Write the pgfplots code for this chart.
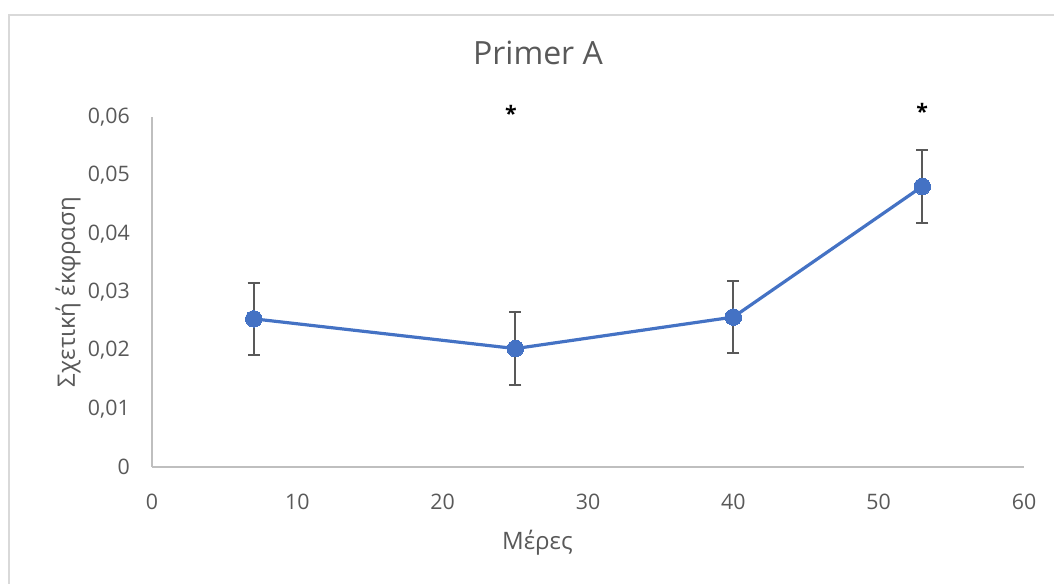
\documentclass[border=0pt]{standalone}
\usepackage{fontspec}
\setmainfont{Open Sans}
\usepackage{pgfplots}
\usepackage{pgfplotstable}
\pgfplotsset{compat=1.18}
\definecolor{lineblue}{HTML}{4472C4}
\definecolor{errgray}{HTML}{595959}
\definecolor{txtgray}{HTML}{595959}
\definecolor{axgray}{HTML}{BFBFBF}
\definecolor{framegray}{HTML}{D9D9D9}

\pgfplotstableread{
x y e
7 0.0254 0.0062
25 0.0203 0.0062
40 0.0257 0.0062
53 0.0481 0.0062
}\primerA

\begin{document}
\begin{tikzpicture}
\useasboundingbox (-114pt,-87pt) rectangle (676.5pt,350.25pt);
\draw[framegray, line width=1pt] (-107.25pt,-100pt) -- (-107.25pt,339pt) -- (700pt,339pt);
\begin{axis}[
  at={(0,0)}, anchor=south west,
  scale only axis, width=654pt, height=262.5pt,
  xmin=0, xmax=60, ymin=0, ymax=0.06,
  clip=false,
  scaled y ticks=false, scaled x ticks=false,
  axis x line*=bottom, axis y line*=left,
  axis line style={draw=axgray, line width=1pt},
  major tick length=0pt,
  xtick={0,10,20,30,40,50,60},
  xticklabels={0,10,20,30,40,50,60},
  ytick={0,0.01,0.02,0.03,0.04,0.05,0.06},
  yticklabels={0,{0,01},{0,02},{0,03},{0,04},{0,05},{0,06}},
  xticklabel style={anchor=center, inner sep=0pt, yshift=-26pt, text=txtgray, font=\fontsize{16}{19}\selectfont},
  yticklabel style={anchor=east, inner sep=0pt, xshift=-16.5pt, text=txtgray, font=\fontsize{16}{19}\selectfont},
  title={Primer A},
  title style={at={(axis description cs:0.5,1)}, anchor=center, xshift=-37.5pt, yshift=42pt, text=txtgray, font=\fontsize{24}{29}\selectfont},
  xlabel={Μέρες},
  xlabel style={at={(axis description cs:0.442,-0.2343)}, anchor=base, text=txtgray, font=\fontsize{18}{22}\selectfont},
  ylabel={Σχετική έκφραση},
  ylabel style={at={(axis description cs:-0.0883,0.5)}, rotate=0, anchor=base, text=txtgray, font=\fontsize{18}{22}\selectfont},
]
\addplot[draw=none, mark=none, forget plot,
  error bars/.cd, y dir=both, y explicit,
  error bar style={draw=errgray, line width=1.6pt},
  error mark options={draw=errgray, rotate=90, mark size=4.5pt, line width=1.6pt}]
  table[x=x, y=y, y error=e] {\primerA};
\addplot[color=lineblue, line width=2.4pt, mark=*, mark size=6.2pt, mark options={fill=lineblue, draw=lineblue, line width=0pt}]
  table[x=x, y=y] {\primerA};
\node[font=\bfseries\fontsize{16}{19}\selectfont, anchor=center, inner sep=0pt] at (axis cs:24.7,0.0606) {*};
\node[font=\bfseries\fontsize{16}{19}\selectfont, anchor=center, inner sep=0pt] at (axis cs:53,0.0610) {*};
\end{axis}
\end{tikzpicture}
\end{document}
